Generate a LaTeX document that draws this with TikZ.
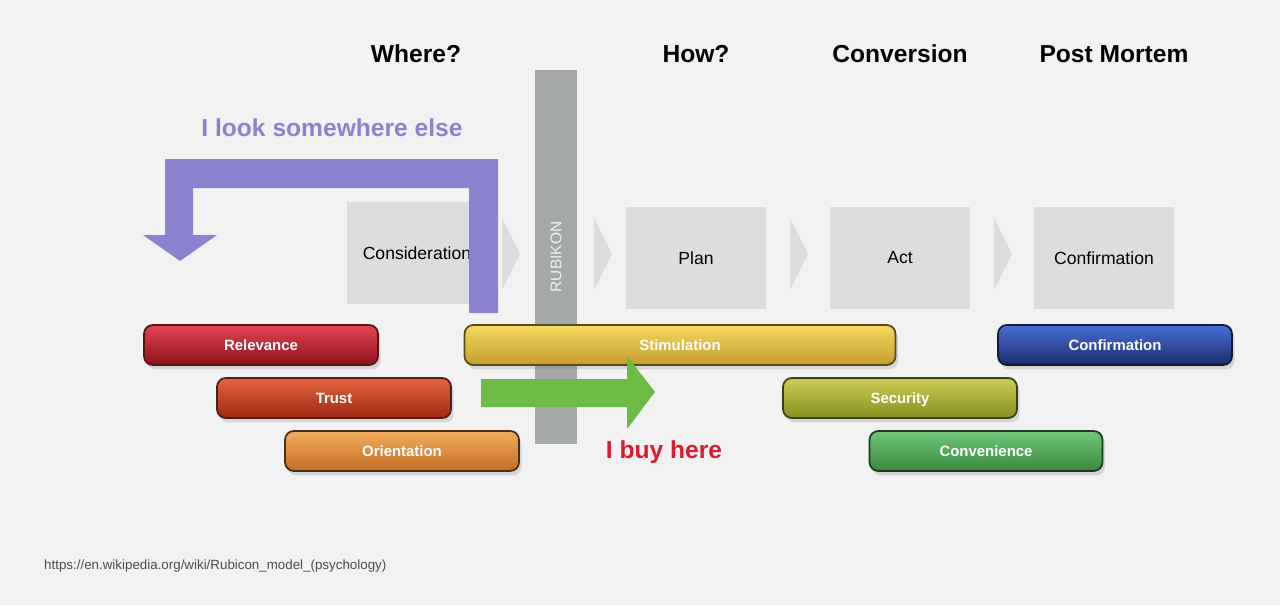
\documentclass[tikz,border=0pt]{standalone}
\usepackage{fontspec}
\setmainfont{Liberation Sans}
\usetikzlibrary{shadows}

\definecolor{bgcol}{HTML}{F2F2F2}
\definecolor{stagecol}{HTML}{DCDDDE}
\definecolor{rubicol}{HTML}{A5A8A8}
\definecolor{lookcol}{HTML}{8B82D0}
\definecolor{buycol}{HTML}{6DBB45}
\definecolor{buytext}{HTML}{E0192F}

\tikzset{
  stage/.style={fill=stagecol, minimum width=2.8cm, minimum height=2.04cm, font=\fontsize{10}{12}\selectfont},
  chev/.style={fill=stagecol},
  heading/.style={font=\fontsize{14}{16}\selectfont\bfseries},
  bar/.style={draw, line width=1pt, rounded corners=5pt, minimum height=0.8cm,
    text height=1.6ex, text depth=0.35ex,
    text=white, font=\fontsize{8.5}{10}\selectfont\bfseries,
    drop shadow={opacity=0.25, shadow xshift=1.5pt, shadow yshift=-2.5pt}},
}

\begin{document}
\begin{tikzpicture}[x=0.02cm, y=-0.02cm]
    \fill[bgcol] (0,0) rectangle (1280,605);
    \useasboundingbox (0,0) rectangle (1280,605);

    % Column headings
    \node[heading] (where) at (416,54) {Where?};
    \node[heading] (how) at (696,54) {How?};
    \node[heading] (conv) at (900,54) {Conversion};
    \node[heading] (post) at (1114,54) {Post Mortem};

    % Stages
    \node[stage] (consid) at (417,253) {Consideration};
    \node[stage] (plan) at (696,258) {Plan};
    \node[stage] (act) at (900,258) {Act};
    \node[stage] (confirm) at (1104,258) {Confirmation};
    \foreach \x in {502,594,790,994}
      \fill[chev] (\x,218) -- (\x+18,254) -- (\x,290) -- cycle;

    % Rubikon
    \fill[rubicol] (535,70) rectangle (577,444);
    \node[rotate=90, text=white!95!black, font=\fontsize{8.8}{10}\selectfont] (rubikon) at (556,257) {RUBIKON};

    % I look somewhere else
    \fill[lookcol] (498,313) -- (498,159) -- (165,159) -- (165,235) -- (143,235)
      -- (180,261) -- (217,235) -- (193,235) -- (193,188) -- (469,188) -- (469,313) -- cycle;
    \node[heading, text=lookcol] (look) at (332,128) {I look somewhere else};

    % Bars
    \node[bar, minimum width=4.68cm, top color={rgb,255:red,226;green,68;blue,82}, bottom color={rgb,255:red,140;green,18;blue,24}, draw={rgb,255:red,85;green,20;blue,20}] (relev) at (261,345) {Relevance};
    \node[bar, minimum width=4.68cm, top color={rgb,255:red,228;green,100;blue,62}, bottom color={rgb,255:red,158;green,40;blue,20}, draw={rgb,255:red,85;green,30;blue,20}] (trust) at (334,398) {Trust};
    \node[bar, minimum width=4.68cm, top color={rgb,255:red,242;green,172;blue,92}, bottom color={rgb,255:red,196;green,110;blue,38}, draw={rgb,255:red,75;green,45;blue,20}] (orient) at (402,451) {Orientation};
    \node[bar, minimum width=8.62cm, top color={rgb,255:red,246;green,216;blue,96}, bottom color={rgb,255:red,196;green,156;blue,46}, draw={rgb,255:red,90;green,75;blue,25}] (stimul) at (680,345) {Stimulation};
    \node[bar, minimum width=4.68cm, top color={rgb,255:red,204;green,204;blue,84}, bottom color={rgb,255:red,136;green,144;blue,32}, draw={rgb,255:red,60;green,65;blue,20}] (secur) at (900,398) {Security};
    \node[bar, minimum width=4.66cm, top color={rgb,255:red,112;green,200;blue,120}, bottom color={rgb,255:red,58;green,136;blue,62}, draw={rgb,255:red,30;green,60;blue,30}] (conven) at (986,451) {Convenience};
    \node[bar, minimum width=4.68cm, top color={rgb,255:red,72;green,112;blue,216}, bottom color={rgb,255:red,26;green,44;blue,108}, draw={rgb,255:red,20;green,25;blue,55}] (confbar) at (1115,345) {Confirmation};

    % I buy here
    \fill[buycol] (481,379) -- (627,379) -- (627,356) -- (655,392) -- (627,429) -- (627,407) -- (481,407) -- cycle;
    \node[heading, text=buytext] (buy) at (664,452) {I buy here};

    % Source
    \node[anchor=west, text=black!70, font=\fontsize{7.6}{9}\selectfont] (src) at (38,566) {https://en.wikipedia.org/wiki/Rubicon\_model\_(psychology)};
\end{tikzpicture}
\end{document}
